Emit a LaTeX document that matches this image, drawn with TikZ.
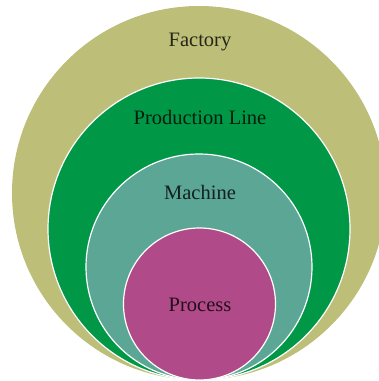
\documentclass[tikz,border=0pt]{standalone}
\usepackage{fontspec}
\setmainfont{Liberation Serif}
\definecolor{factoryc}{RGB}{189,191,120}
\definecolor{linec}{RGB}{0,152,70}
\definecolor{machinec}{RGB}{92,166,150}
\definecolor{processc}{RGB}{176,74,136}

\begin{document}
\begin{tikzpicture}[x=1pt,y=1pt,
  ring/.style={draw=white, line width=1.2pt},
  lbl/.style={anchor=base, text=black, text opacity=0.8, font=\fontsize{20.5}{24}\selectfont}]
  \useasboundingbox (0,0) rectangle (379,381);
  \clip (0,0) rectangle (379,381);
  \def\Rf{187}
  \def\Rl{151}
  \def\Rm{113}
  \def\Rp{76}

  \coordinate (F) at (199,1+\Rf);
  \coordinate (L) at (199,1+\Rl);
  \coordinate (M) at (199,1+\Rm);
  \coordinate (P) at (199.5,1+\Rp);

  \fill[factoryc] (F) circle (\Rf);
  \filldraw[ring, fill=linec] (L) circle (\Rl);
  \filldraw[ring, fill=machinec] (M) circle (\Rm);
  \filldraw[ring, fill=processc] (P) circle (\Rp);

  \node[lbl] (factory) at (200,334) {Factory};
  \node[lbl] (line) at (200,256) {Production Line};
  \node[lbl] (machine) at (200,181) {Machine};
  \node[lbl] (process) at (200,69) {Process};
\end{tikzpicture}
\end{document}
